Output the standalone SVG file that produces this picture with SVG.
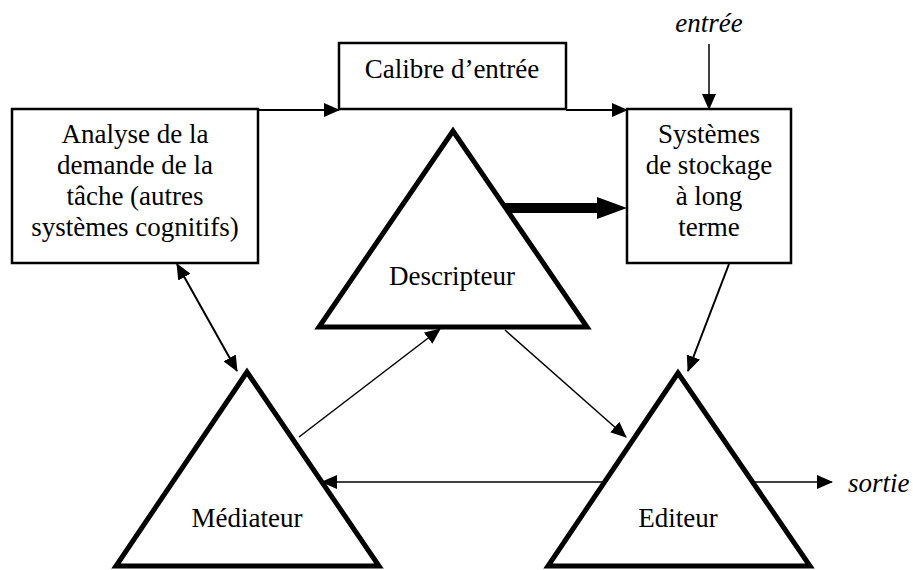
<svg xmlns="http://www.w3.org/2000/svg" width="913" height="570" viewBox="0 0 913 570">
<style>
text{font-family:"Liberation Serif","Times New Roman",serif;font-size:27px;fill:#000;text-anchor:middle}
.it{font-style:italic}
.box{fill:#fff;stroke:#000;stroke-width:2.5}
.tri{fill:#fff;stroke:#000;stroke-width:5;stroke-linejoin:miter}
.c{fill:none;stroke:#000;stroke-width:2}
.t{fill:none;stroke:#000;stroke-width:1.5}
</style>
<defs>
<marker id="ah" markerUnits="userSpaceOnUse" markerWidth="16" markerHeight="14" viewBox="0 0 16 14" refX="15" refY="7" orient="auto-start-reverse">
<path d="M0,0 L16,7 L0,14 Z" fill="#000"/>
</marker>
</defs>
<rect width="913" height="570" fill="#fff"/>
<g id="connectors">
<path class="c" d="M258,110 H339" marker-end="url(#ah)"/>
<path class="c" d="M566,110 H627" marker-end="url(#ah)"/>
<path class="t" d="M709,44 V109" marker-end="url(#ah)"/>
<path class="c" d="M177,264 L237,371" marker-start="url(#ah)" marker-end="url(#ah)"/>
<path class="c" d="M729,264 L688,371" marker-end="url(#ah)"/>
<path class="t" d="M299,437 L440,329" marker-end="url(#ah)"/>
<path class="t" d="M505,330 L626,437" marker-end="url(#ah)"/>
<path class="t" d="M604,482 H322" marker-end="url(#ah)"/>
<path class="t" d="M752,482 H832" marker-end="url(#ah)"/>
<polygon points="503,203 597,203 597,197 627,208 597,219 597,213 503,213" fill="#000"/>
</g>
<g id="analyse">
<rect class="box" x="12" y="109" width="246" height="154"/>
<text x="135" y="143">Analyse de la</text>
<text x="135" y="174">demande de la</text>
<text x="135" y="205">tâche (autres</text>
<text x="135" y="236">systèmes cognitifs)</text>
</g>
<g id="calibre">
<rect class="box" x="339" y="43" width="227" height="66"/>
<text x="452" y="78">Calibre d’entrée</text>
</g>
<g id="stockage">
<rect class="box" x="627" y="109" width="164" height="154"/>
<text x="709" y="143">Systèmes</text>
<text x="709" y="174">de stockage</text>
<text x="709" y="205">à long</text>
<text x="709" y="236">terme</text>
</g>
<g id="entree"><text class="it" x="709" y="32">entrée</text></g>
<g id="sortie"><text class="it" x="848" y="492" style="text-anchor:start">sortie</text></g>
<g id="descripteur">
<polygon class="tri" points="453,131 319,327 587,327"/>
<text x="452" y="285">Descripteur</text>
</g>
<g id="mediateur">
<polygon class="tri" points="247,372 116,566 379,566"/>
<text x="247" y="527">Médiateur</text>
</g>
<g id="editeur">
<polygon class="tri" points="678,373 548,566 810,566"/>
<text x="678" y="527">Editeur</text>
</g>
</svg>
